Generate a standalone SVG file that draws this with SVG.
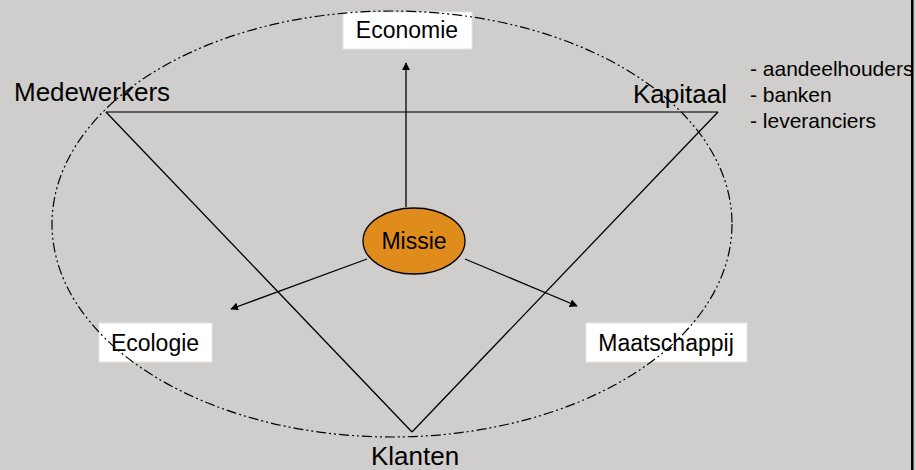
<svg xmlns="http://www.w3.org/2000/svg" width="916" height="470" viewBox="0 0 916 470">
<style>
text{font-family:"Liberation Sans",Arial,sans-serif;fill:#000}
.box{fill:#fff;stroke:#e6e6e6;stroke-width:1}
.lbl{font-size:23px}
.vtx{font-size:26px}
.lst{font-size:21px}
.edge{stroke:#000;stroke-width:1.3;fill:none}
.arr{stroke:#000;stroke-width:1.3;fill:none;marker-end:url(#ah)}
</style>
<defs>
<marker id="ah" viewBox="0 0 10 10" refX="9" refY="5" markerWidth="8" markerHeight="8" markerUnits="userSpaceOnUse" orient="auto">
<path d="M0,0 L10,5 L0,10 Z" fill="#000"/>
</marker>
</defs>
<rect x="0" y="0" width="916" height="470" fill="#cfcecc"/>

<g id="economie">
<rect class="box" x="343" y="12" width="129" height="37"/>
<text class="lbl" x="407" y="38" text-anchor="middle">Economie</text>
</g>
<g id="ecologie">
<rect class="box" x="99" y="323" width="113" height="39"/>
<text class="lbl" x="155" y="351" text-anchor="middle">Ecologie</text>
</g>
<g id="maatschappij">
<rect class="box" x="586" y="323" width="161" height="39"/>
<text class="lbl" x="666" y="351" text-anchor="middle">Maatschappij</text>
</g>
<g id="medewerkers">
<text class="vtx" x="14" y="101">Medewerkers</text>
</g>
<g id="kapitaal">
<text class="vtx" x="633" y="103">Kapitaal</text>
</g>
<g id="klanten">
<text class="vtx" x="415" y="465" text-anchor="middle">Klanten</text>
</g>
<g id="kapitaal-list">
<text class="lst" x="750" y="76">- aandeelhouders</text>
<text class="lst" x="750" y="102">- banken</text>
<text class="lst" x="750" y="128">- leveranciers</text>
</g>

<g id="connectors">
<line x1="106" y1="112" x2="718" y2="112" stroke="#3a3a3a" stroke-width="1.6"/>
<line class="edge" x1="106" y1="112" x2="412" y2="432"/>
<line class="edge" x1="718" y1="112" x2="412" y2="432"/>
<line class="arr" x1="406" y1="207" x2="406" y2="63"/>
<line class="arr" x1="367" y1="259" x2="231" y2="309"/>
<line class="arr" x1="465" y1="259" x2="577" y2="306"/>
</g>

<g id="missie">
<ellipse cx="414" cy="241" rx="51" ry="33" fill="#df8c1c" stroke="#000" stroke-width="1.3"/>
<text x="414" y="249" font-size="23" text-anchor="middle">Missie</text>
</g>

<g id="boundary">
<ellipse cx="392" cy="224" rx="340" ry="213" fill="none" stroke="#000" stroke-width="1.2" stroke-dasharray="10 3 2 3 2 3"/>
</g>

<rect x="911" y="0" width="2.5" height="470" fill="#000"/>
</svg>
